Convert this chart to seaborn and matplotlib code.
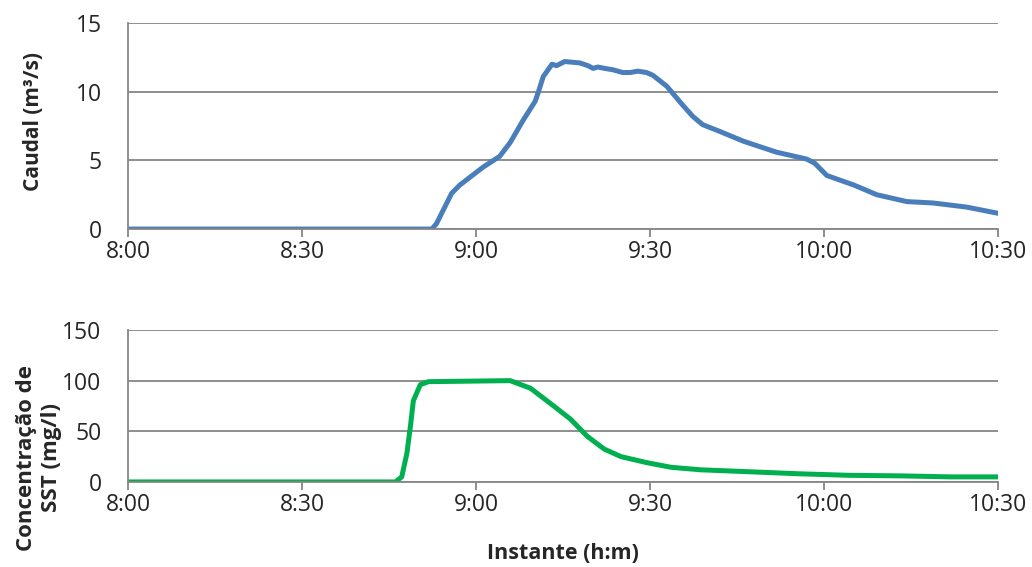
import matplotlib.pyplot as plt
import numpy as np
import pandas as pd
import seaborn as sns

# minutes after 8:00 and flow (m3/s)
q_min = [0, 20, 40, 52.4, 53.2, 55.8, 57.2, 61.2, 64.1, 65.9, 68.1, 70.2, 70.7, 71.6,
         73.1, 73.9, 75.3, 77.9, 79.3, 80.2, 81.0, 82.2, 83.6, 85.3, 86.6, 87.9,
         89.4, 90.5, 92.9, 95.7, 97.4, 99.1, 102.1, 106.1, 111.8, 117.0, 118.4,
         120.5, 125.2, 129.1, 134.3, 138.8, 144.6, 150]
caudal = [0, 0, 0, 0, 0.4, 2.6, 3.2, 4.5, 5.3, 6.3, 7.9, 9.3, 9.9, 11.1,
          12.0, 11.9, 12.2, 12.1, 11.9, 11.7, 11.8, 11.7, 11.6, 11.4, 11.4, 11.5,
          11.4, 11.2, 10.4, 9.0, 8.2, 7.6, 7.1, 6.4, 5.6, 5.1, 4.8,
          3.9, 3.2, 2.5, 2.0, 1.9, 1.6, 1.15]

# minutes after 8:00 and SST concentration (mg/l)
s_min = [0, 20, 40, 46.1, 47.2, 48.1, 48.7, 49.2, 50.4, 51.8, 65.9, 69.4, 73.4,
         76.3, 79.2, 82.1, 85.0, 89.5, 93.6, 98.7, 107.4, 116.0, 124.6, 133.3,
         141.9, 150]
sst = [0, 0, 0, 0, 5, 28.5, 55, 80, 96, 99, 100, 92.5, 75,
       62, 45, 32.5, 25, 19, 14.5, 12, 10, 8, 6.5, 6, 5, 5]

xticks = [0, 30, 60, 90, 120, 150]
xlabels = ["8:00", "8:30", "9:00", "9:30", "10:00", "10:30"]

df_q = pd.DataFrame({"t": q_min, "caudal": caudal})
df_s = pd.DataFrame({"t": s_min, "sst": sst})

sns.set_style("white")
plt.rcParams['font.family'] = ['Open Sans', 'DejaVu Sans']
grey = "#868686"

fig = plt.figure(figsize=(10.32, 5.67), dpi=100)
ax1 = fig.add_axes([0.124, 0.596, 0.843, 0.3633])
ax2 = fig.add_axes([0.124, 0.150, 0.843, 0.268])

sns.lineplot(data=df_q, x="t", y="caudal", ax=ax1, color="#4A7EBB", linewidth=3.6)
sns.lineplot(data=df_s, x="t", y="sst", ax=ax2, color="#00B050", linewidth=3.6)

for ax, ymax, ystep in [(ax1, 15, 5), (ax2, 150, 50)]:
    ax.set_xlim(0, 150)
    ax.set_ylim(0, ymax)
    ax.set_yticks(np.arange(0, ymax + 1, ystep))
    ax.set_xticks(xticks)
    ax.set_xticklabels(xlabels)
    ax.yaxis.grid(True, color=grey, linewidth=1.3)
    ax.set_axisbelow(True)
    for side in ["top", "right"]:
        ax.spines[side].set_visible(False)
    for side in ["left", "bottom"]:
        ax.spines[side].set_color(grey)
        ax.spines[side].set_linewidth(1.3)
    ax.tick_params(axis="x", direction="out", length=6, color=grey, width=1.3,
                   labelsize=16.5, pad=2, bottom=True)
    ax.tick_params(axis="y", length=0, labelsize=16.5, pad=19)
    ax.set_xlabel("")

ax1.set_ylabel("Caudal (m³/s)", fontsize=15, fontweight="bold")
ax1.yaxis.set_label_coords(-0.097, 0.52)
ax2.set_ylabel("Concentração de\nSST (mg/l)", fontsize=16, fontweight="bold",
               linespacing=1.25)
ax2.yaxis.set_label_coords(-0.076, 0.16)
ax2.set_xlabel("Instante (h:m)", fontsize=15.5, fontweight="bold", labelpad=19)

fig.savefig("out.png", dpi=100)
plt.close()
